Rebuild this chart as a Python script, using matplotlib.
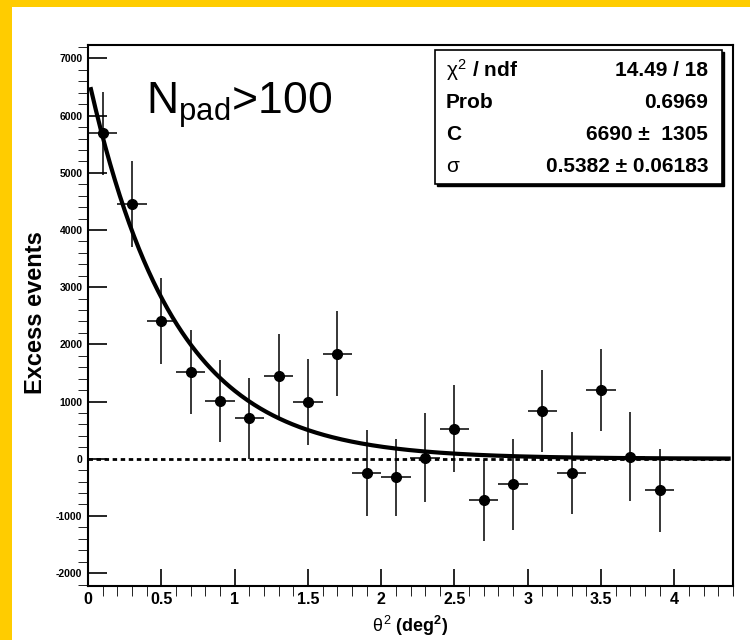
import matplotlib
matplotlib.use("Agg")
import matplotlib.pyplot as plt
from matplotlib.patches import Rectangle
import numpy as np

# bin centres (theta^2, deg^2) and measured excess
theta2 = [0.1, 0.3, 0.5, 0.7, 0.9, 1.1, 1.3, 1.5, 1.7, 1.9,
          2.1, 2.3, 2.5, 2.7, 2.9, 3.1, 3.3, 3.5, 3.7, 3.9]
excess = [5690, 4455, 2410, 1520, 1015, 705, 1450, 990, 1840, -245,
          -325, 20, 525, -730, -450, 835, -245, 1200, 35, -550]
excess_err = [730, 750, 745, 730, 720, 715, 740, 750, 750, 755,
              675, 785, 760, 705, 790, 725, 715, 715, 775, 725]
bin_half = 0.1

# fit result shown in the stats box
fit_C = 6690
fit_sigma = 0.5382
stats_rows = [(r"$\chi^{2}$ / ndf", "14.49 / 18"),
              ("Prob", "0.6969"),
              ("C", "6690 \u00b1  1305"),
              (r"$\sigma$", "0.5382 \u00b1 0.06183")]

plt.rcParams['font.family'] = ['Liberation Sans', 'DejaVu Sans']
plt.rcParams['mathtext.fontset'] = 'custom'
plt.rcParams['mathtext.rm'] = 'Liberation Sans'
plt.rcParams['mathtext.it'] = 'Liberation Sans'
plt.rcParams['mathtext.bf'] = 'Liberation Sans:bold'
plt.rcParams['axes.unicode_minus'] = False

W, H = 750, 640
def fx(px):
    return px / W
def fy(py):
    return 1 - py / H

fig = plt.figure(figsize=(7.5, 6.4), dpi=100, facecolor='#FFCC00')
fig.patches.append(Rectangle((fx(12), 0), 1 - fx(12), fy(7), transform=fig.transFigure,
                             facecolor='white', edgecolor='none', zorder=-10))

ax = fig.add_axes([fx(88), fy(585.7), fx(733) - fx(88), fy(45) - fy(585.7)])
ax.set_facecolor('white')

# zero line
ax.axhline(0, color='black', lw=2, linestyle=(0, (1.6, 1.3)), zorder=1)

# data
ax.errorbar(theta2, excess, xerr=bin_half, yerr=excess_err, fmt='o', color='black',
            ms=7, elinewidth=1.1, capsize=0, zorder=3)

# fit curve
xf = np.linspace(0.02, 4.37, 400)
ax.plot(xf, fit_C * np.exp(-xf / (2 * fit_sigma**2)), color='black', lw=3, zorder=2)

ax.set_xlim(0, 4.4)
ax.set_ylim(-2220, 7235)
ax.set_xticks(np.arange(0, 4.01, 0.5))
ax.set_xticks(np.arange(0, 4.41, 0.1), minor=True)
ax.set_yticks(np.arange(-2000, 7001, 1000))
ax.set_yticks(np.arange(-2200, 7201, 200), minor=True)
ax.set_xticklabels(['0', '0.5', '1', '1.5', '2', '2.5', '3', '3.5', '4'])
ax.tick_params(direction='in', top=False, right=False, width=1.2)
ax.tick_params(axis='x', which='major', length=12, pad=4.5, labelsize=11.5)
ax.tick_params(axis='x', which='minor', length=7)
ax.tick_params(axis='y', which='major', length=13.5, pad=4, labelsize=7.5)
ax.tick_params(axis='y', which='minor', length=7.5)
for lab in ax.get_xticklabels() + ax.get_yticklabels():
    lab.set_fontweight('bold')
for s in ax.spines.values():
    s.set_linewidth(1.5)

# axis titles
fig.text(fx(410), fy(626), r"$\theta^{2}$ (deg$^{\mathbf{2}}$)", fontsize=13, fontweight='bold',
         ha='center', va='center')
fig.text(fx(36), fy(313), "Excess events", fontsize=17, fontweight='bold',
         rotation=90, ha='center', va='center')

# label in the pad
fig.text(fx(146), fy(114), r"N$_{\mathrm{pad}}$>100", fontsize=32, ha='left', va='baseline')

# stats box
bx0, by0, bx1, by1 = 435, 50, 722, 184
fig.patches.append(Rectangle((fx(bx0 + 2), fy(by1 + 2)), fx(bx1) - fx(bx0), fy(by0) - fy(by1),
                             transform=fig.transFigure, facecolor='black', edgecolor='black', zorder=5))
fig.patches.append(Rectangle((fx(bx0), fy(by1)), fx(bx1) - fx(bx0), fy(by0) - fy(by1),
                             transform=fig.transFigure, facecolor='white', edgecolor='black',
                             lw=1.2, zorder=6))
row_y = [70.5, 102.5, 135, 166]
for (name, val), ry in zip(stats_rows, row_y):
    fig.text(fx(446), fy(ry), name, fontsize=15, fontweight='bold', ha='left', va='center', zorder=7)
    fig.text(fx(708), fy(ry), val, fontsize=15, fontweight='bold', ha='right', va='center', zorder=7)

fig.savefig('out.png', dpi=100, facecolor=fig.get_facecolor())
